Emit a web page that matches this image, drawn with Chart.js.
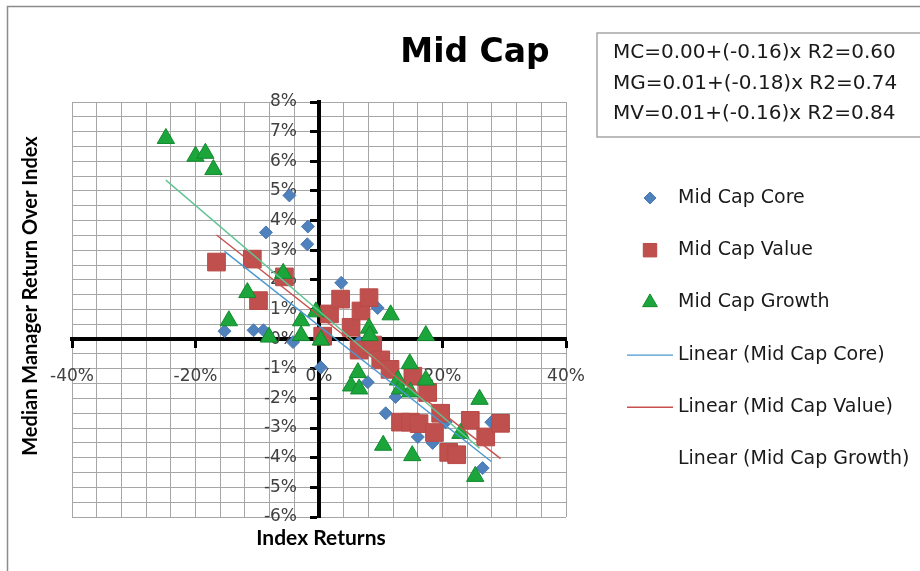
<!DOCTYPE html>
<html>
<head>
<meta charset="utf-8">
<title>Mid Cap</title>
<script src="https://cdn.jsdelivr.net/npm/chart.js@4.4.0/dist/chart.umd.min.js"></script>
<style>
  html, body { margin: 0; padding: 0; background: #fff; }
  #wrap { position: relative; width: 920px; height: 571px; overflow: hidden; }
  canvas { position: absolute; left: 0; top: 0; }
</style>
</head>
<body>
<div id="wrap"><canvas id="c" width="920" height="571"></canvas></div>
<script>
// Index return (x, %) vs. median manager return over index (y, %)
const coreX = [-4.8, -8.6, -1.8, -1.9, -15.3, -10.6, -9.0, -4.2, 3.6, 9.5, 0.3, 6.5, 7.9, 12.4, 10.8, 16.0, 18.4, 20.5, 27.9, 26.5];
const coreY = [4.85, 3.6, 3.8, 3.2, 0.27, 0.3, 0.3, -0.1, 1.9, 1.05, -0.95, -0.1, -1.45, -1.95, -2.5, -3.3, -3.5, -2.8, -2.8, -4.35];

const valueX = [-16.6, -10.8, -9.8, -5.6, 0.6, 1.7, 3.5, 5.2, 6.8, 8.1, 6.5, 8.7, 10.0, 11.5, 15.2, 17.6, 13.2, 14.8, 16.2, 18.7, 19.7, 21.0, 22.3, 24.5, 27.0, 29.4];
const valueY = [2.6, 2.7, 1.3, 2.1, 0.1, 0.85, 1.35, 0.4, 0.95, 1.4, -0.37, -0.2, -0.7, -1.02, -1.25, -1.8, -2.8, -2.8, -2.85, -3.15, -2.5, -3.82, -3.9, -2.74, -3.3, -2.84];

const growthX = [-24.8, -20.0, -18.4, -17.1, -14.6, -11.6, -5.8, -8.1, -2.9, -2.9, -0.5, 0.3, 5.2, 6.3, 6.5, 8.1, 8.2, 11.6, 17.3, 14.7, 12.8, 13.1, 14.8, 17.3, 26.0, 22.9, 10.4, 15.1, 25.3];
const growthY = [6.77, 6.17, 6.27, 5.72, 0.62, 1.57, 2.22, 0.07, 0.62, 0.12, 0.92, -0.03, -1.58, -1.13, -1.68, 0.37, 0.12, 0.82, 0.12, -0.83, -1.38, -1.68, -1.78, -1.38, -2.03, -3.18, -3.58, -3.93, -4.63];

// Series: Core, Value, Growth
const seriesLabels = ['Mid Cap Core', 'Mid Cap Value', 'Mid Cap Growth'];
const seriesCodes = ['MC', 'MV', 'MG'];
// Linear fits, y = a + b·x (returns as fractions)
const trendIntercept = [0.0045, 0.0079, 0.0095];
const trendSlope = [-0.164, -0.164, -0.178];
const trendR2 = [0.60, 0.84, 0.74];
const equationOrder = [0, 2, 1];

const xRange = [-40, 40];
const yRange = [-6, 8];
const xGridStep = 4, xLabelStep = 20;
const yGridStep = 0.5, yLabelStep = 1;

const chartTitle = 'Mid Cap';
const xTitle = 'Index Returns';
const yTitle = 'Median Manager Return Over Index';

const seriesX = [coreX, valueX, growthX];
const seriesY = [coreY, valueY, growthY];
const markerStyle = ['rectRot', 'rect', 'triangle'];
const markerRadius = [6.5, 12.5, 10];
const markerFill = ['#4f81bd', '#c0504d', '#1ca53b'];
const markerEdge = ['#4a7ab4', '#b84a47', '#108a2d'];
const trendColor = ['#4a98d2', '#c8504c', '#62c495'];

const toPoints = (xs, ys) => xs.map((x, i) => ({ x, y: ys[i] }));

function trendPoints(s) {
  const xs = seriesX[s];
  const lo = Math.min(...xs), hi = Math.max(...xs);
  const f = x => trendIntercept[s] * 100 + trendSlope[s] * x;
  return [{ x: lo, y: f(lo) }, { x: hi, y: f(hi) }];
}

function equationText(s) {
  return seriesCodes[s] + '=' + trendIntercept[s].toFixed(2) + '+(' + trendSlope[s].toFixed(2) + ')x R2=' + trendR2[s].toFixed(2);
}

const datasets = [];
for (let s = 0; s < 3; s++) {
  datasets.push({
    label: seriesLabels[s],
    data: toPoints(seriesX[s], seriesY[s]),
    pointStyle: markerStyle[s],
    pointRadius: markerRadius[s],
    pointBackgroundColor: markerFill[s],
    pointBorderColor: markerEdge[s],
    pointBorderWidth: 1,
    showLine: false,
    order: 4 - s
  });
}
for (let s = 0; s < 3; s++) {
  datasets.push({
    label: 'Linear (' + seriesLabels[s] + ')',
    data: trendPoints(s),
    showLine: true,
    borderColor: trendColor[s],
    borderWidth: 1.4,
    pointRadius: 0,
    fill: false,
    order: 1,
    legendLine: s !== 2
  });
}

const TICK_FONT = { family: 'DejaVu Sans', size: 17 };
const Y_LABEL_GAP = 22;

// The value axis sits at x = 0; keep its labels clear of the axis line and tick marks
const yLabelGap = {
  id: 'yLabelGap',
  afterUpdate(chart) {
    chart.scales.y.getLabelItems(chart.chartArea).forEach(item => {
      item.options.translation[0] -= Y_LABEL_GAP;
    });
  }
};

// Frame, title, equation box, axis titles and legend
const decor = {
  id: 'decor',
  beforeDraw(chart) {
    const ctx = chart.ctx;
    ctx.save();
    ctx.strokeStyle = '#8c8c8c';
    ctx.lineWidth = 1.5;
    ctx.beginPath();
    ctx.moveTo(7.5, 571);
    ctx.lineTo(7.5, 6.5);
    ctx.lineTo(920, 6.5);
    ctx.stroke();
    ctx.restore();
  },
  afterDraw(chart) {
    const ctx = chart.ctx;
    ctx.save();

    ctx.fillStyle = '#000';
    ctx.font = 'bold 33px "DejaVu Sans"';
    ctx.textAlign = 'center';
    ctx.textBaseline = 'alphabetic';
    ctx.fillText(chartTitle, 475, 62);

    ctx.fillStyle = '#fff';
    ctx.fillRect(597, 33, 340, 104);
    ctx.strokeStyle = '#a6a6a6';
    ctx.lineWidth = 1.5;
    ctx.strokeRect(597, 33, 340, 104);
    ctx.fillStyle = '#1a1a1a';
    ctx.font = '20px "DejaVu Sans"';
    ctx.textAlign = 'left';
    ctx.textBaseline = 'middle';
    equationOrder.forEach((s, i) => ctx.fillText(equationText(s), 613, 53 + i * 30.5));

    ctx.fillStyle = '#000';
    ctx.font = 'bold 21px Lato';
    ctx.textAlign = 'center';
    ctx.textBaseline = 'middle';
    ctx.fillText(xTitle, 321, 538);
    ctx.save();
    ctx.translate(31, 296);
    ctx.rotate(-Math.PI / 2);
    ctx.font = 'bold 20px Lato';
    ctx.fillText(yTitle, 0, 0);
    ctx.restore();

    const legendMarker = [6, 9.5, 8.5];
    ctx.font = '19px "DejaVu Sans"';
    ctx.textAlign = 'left';
    ctx.textBaseline = 'middle';
    chart.data.datasets.forEach((ds, i) => {
      const y = 198 + i * 52.2;
      if (ds.showLine) {
        if (ds.legendLine) {
          ctx.strokeStyle = ds.borderColor;
          ctx.lineWidth = 1.4;
          ctx.beginPath();
          ctx.moveTo(627, y + 0.5);
          ctx.lineTo(673, y + 0.5);
          ctx.stroke();
        }
      } else {
        ctx.fillStyle = ds.pointBackgroundColor;
        ctx.strokeStyle = ds.pointBorderColor;
        ctx.lineWidth = 1;
        Chart.helpers.drawPoint(ctx, { pointStyle: ds.pointStyle, radius: legendMarker[i], borderWidth: 1, rotation: 0 }, 650, y);
      }
      ctx.fillStyle = '#1a1a1a';
      ctx.fillText(ds.label, 678, y);
    });
    ctx.restore();
  }
};

new Chart(document.getElementById('c'), {
  type: 'scatter',
  data: { datasets },
  plugins: [yLabelGap, decor],
  options: {
    responsive: false,
    animation: false,
    devicePixelRatio: 1,
    layout: { padding: { left: 72, top: 102, right: 354, bottom: 54 } },
    plugins: { legend: { display: false }, tooltip: { enabled: false }, title: { display: false } },
    scales: {
      x: {
        type: 'linear',
        position: { y: 0 },
        min: xRange[0], max: xRange[1],
        afterFit(scale) { scale.height = 0; },
        ticks: {
          stepSize: xGridStep,
          autoSkip: false, maxRotation: 0, minRotation: 0,
          padding: 20,
          font: TICK_FONT, color: '#404040',
          callback: v => (v % xLabelStep === 0 ? v + '%' : '')
        },
        grid: {
          color: '#a6a6a6', lineWidth: 1,
          drawTicks: true, tickLength: 7,
          tickWidth: c => (c.tick && c.tick.value % xLabelStep === 0 ? 3 : 0),
          tickColor: c => (c.tick && c.tick.value % xLabelStep === 0 ? '#000' : 'rgba(0,0,0,0)')
        },
        border: { display: true, color: '#000', width: 4 }
      },
      y: {
        type: 'linear',
        position: { x: 0 },
        min: yRange[0], max: yRange[1],
        afterFit(scale) { scale.width = 0; },
        ticks: {
          stepSize: yGridStep,
          autoSkip: false,
          font: TICK_FONT, color: '#404040',
          callback: v => (Math.abs(v % yLabelStep) < 1e-9 ? v + '%' : '')
        },
        grid: {
          color: '#a6a6a6', lineWidth: 1,
          drawTicks: true, tickLength: 7,
          tickWidth: c => (c.tick && Math.abs(c.tick.value % yLabelStep) < 1e-9 ? 3 : 0),
          tickColor: c => (c.tick && Math.abs(c.tick.value % yLabelStep) < 1e-9 ? '#000' : 'rgba(0,0,0,0)')
        },
        border: { display: true, color: '#000', width: 4 }
      }
    }
  }
});
</script>
</body>
</html>
